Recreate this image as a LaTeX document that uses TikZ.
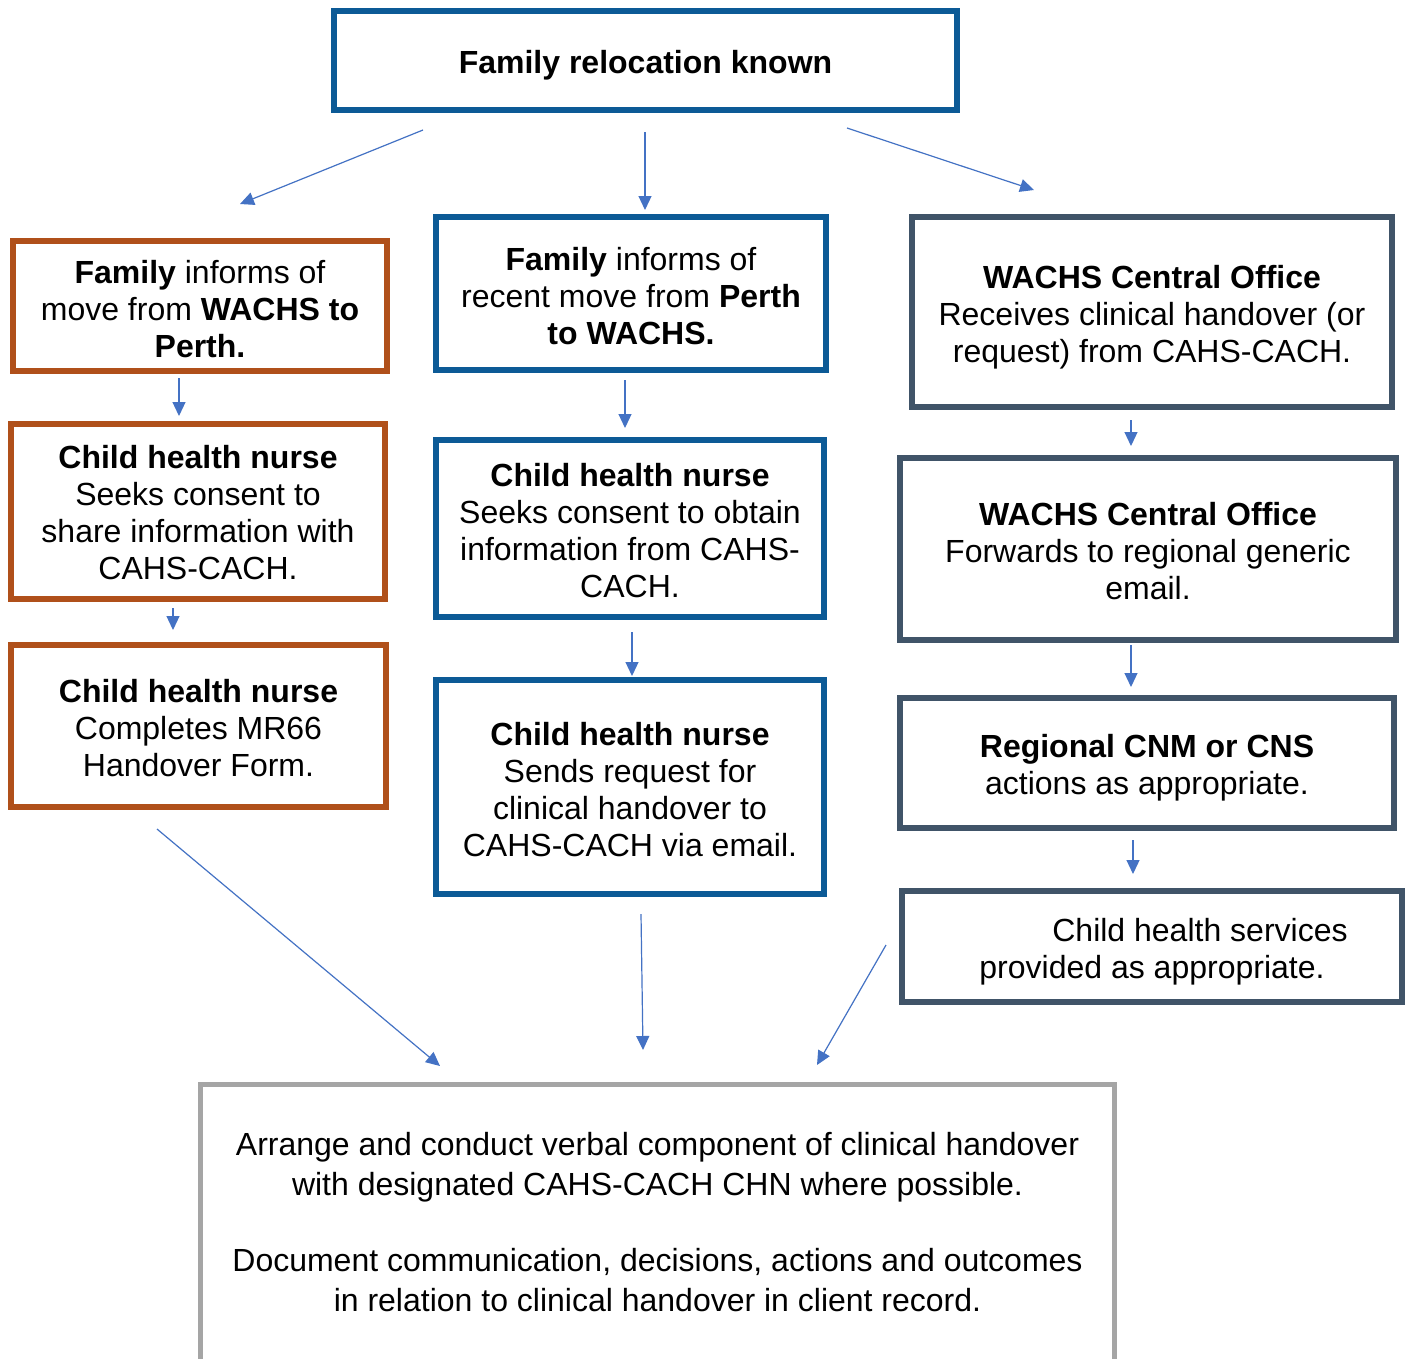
\documentclass[tikz,border=0pt]{standalone}
\usepackage{fontspec}
\setmainfont{Liberation Sans}
\usetikzlibrary{arrows.meta}
\definecolor{cBlue}{RGB}{12,90,150}
\definecolor{cOrange}{RGB}{176,80,26}
\definecolor{cSlate}{RGB}{64,84,104}
\definecolor{cGray}{RGB}{165,165,165}
\definecolor{cArrow}{RGB}{68,114,196}
\newcommand{\lift}[1]{\rule{0pt}{#1}}
\begin{document}
\begin{tikzpicture}[x=1pt,y=-1pt,
  bx/.style={draw, line width=6pt, inner sep=0pt, outer sep=0pt, align=center,
    font=\fontsize{32}{37}\selectfont, text=black},
  bluebx/.style={bx, draw=cBlue},
  orangebx/.style={bx, draw=cOrange},
  slatebx/.style={bx, draw=cSlate},
  graybx/.style={bx, draw=cGray, line width=5pt, font=\fontsize{32}{40}\selectfont},
  conn/.style={draw=cArrow, line width=1.2pt, -{Triangle[length=14pt,width=13pt]}}
]
\useasboundingbox[fill=white] (0,0) rectangle (1413,1358);

% boxes
\node[bluebx, minimum width=623pt, minimum height=99pt] (top) at (645.5,60.5)
  {\lift{33.5pt}\textbf{Family relocation known}};

\node[orangebx, minimum width=374pt, minimum height=130pt] (l1) at (200,306)
  {\lift{29.5pt}\textbf{Family} informs of\\ move from \textbf{WACHS to}\\ \textbf{Perth.}};
\node[orangebx, minimum width=374pt, minimum height=175pt] (l2) at (198,511.5)
  {\lift{25.5pt}\textbf{Child health nurse}\\ Seeks consent to\\ share information with\\ CAHS-CACH.};
\node[orangebx, minimum width=375pt, minimum height=162pt] (l3) at (198.5,726)
  {\lift{27.5pt}\textbf{Child health nurse}\\ Completes MR66\\ Handover Form.};

\node[bluebx, minimum width=390pt, minimum height=153pt] (m1) at (631,293.5)
  {\lift{27.5pt}\textbf{Family} informs of\\ recent move from \textbf{Perth}\\ \textbf{to WACHS.}};
\node[bluebx, minimum width=388pt, minimum height=177pt] (m2) at (630,528.5)
  {\lift{27.5pt}\textbf{Child health nurse}\\ Seeks consent to obtain\\ information from CAHS-\\ CACH.};
\node[bluebx, minimum width=388pt, minimum height=214pt] (m3) at (630,787)
  {\lift{27.5pt}\textbf{Child health nurse}\\ Sends request for\\ clinical handover to\\ CAHS-CACH via email.};

\node[slatebx, minimum width=480pt, minimum height=190pt] (r1) at (1152,312)
  {\lift{33.5pt}\textbf{WACHS Central Office}\\ Receives clinical handover (or\\ request) from CAHS-CACH.};
\node[slatebx, minimum width=496pt, minimum height=182pt] (r2) at (1148,549)
  {\lift{27.5pt}\textbf{WACHS Central Office}\\ Forwards to regional generic\\ email.};
\node[slatebx, minimum width=494pt, minimum height=130pt] (r3) at (1147,763)
  {\lift{33.5pt}\textbf{Regional CNM or CNS}\\ actions as appropriate.};
\node[slatebx, minimum width=500pt, minimum height=111pt] (r4) at (1152,946.5)
  {\lift{33.5pt}\hspace*{96pt}Child health services\\ provided as appropriate.};

\node[graybx, minimum width=914pt, minimum height=282pt] (bot) at (657.5,1225)
  {Arrange and conduct verbal component of clinical handover\\ with designated CAHS-CACH CHN where possible.\\[36pt]
   Document communication, decisions, actions and outcomes\\ in relation to clinical handover in client record.\rule[-6pt]{0pt}{0pt}};

% connector end points
\coordinate (tls) at (423,130);  \coordinate (tle) at (240,204);
\coordinate (tms) at (645,132);  \coordinate (tme) at (645,210);
\coordinate (trs) at (847,128);  \coordinate (tre) at (1034,190);
\coordinate (l12s) at (179,378); \coordinate (l12e) at (179,416);
\coordinate (l23s) at (173,608); \coordinate (l23e) at (173,630);
\coordinate (m12s) at (625,380); \coordinate (m12e) at (625,428);
\coordinate (m23s) at (632,632); \coordinate (m23e) at (632,676);
\coordinate (r12s) at (1131,420); \coordinate (r12e) at (1131,446);
\coordinate (r23s) at (1131,645); \coordinate (r23e) at (1131,687);
\coordinate (r34s) at (1133,840); \coordinate (r34e) at (1133,874);
\coordinate (lbs) at (157,829);  \coordinate (lbe) at (440,1066);
\coordinate (mbs) at (641,914);  \coordinate (mbe) at (643,1050);
\coordinate (rbs) at (886,945);  \coordinate (rbe) at (817,1065);

\draw[conn] (tls) -- (tle);
\draw[conn] (tms) -- (tme);
\draw[conn] (trs) -- (tre);
\draw[conn] (l12s) -- (l12e);
\draw[conn] (l23s) -- (l23e);
\draw[conn] (m12s) -- (m12e);
\draw[conn] (m23s) -- (m23e);
\draw[conn] (r12s) -- (r12e);
\draw[conn] (r23s) -- (r23e);
\draw[conn] (r34s) -- (r34e);
\draw[conn] (lbs) -- (lbe);
\draw[conn] (mbs) -- (mbe);
\draw[conn] (rbs) -- (rbe);
\end{tikzpicture}
\end{document}
